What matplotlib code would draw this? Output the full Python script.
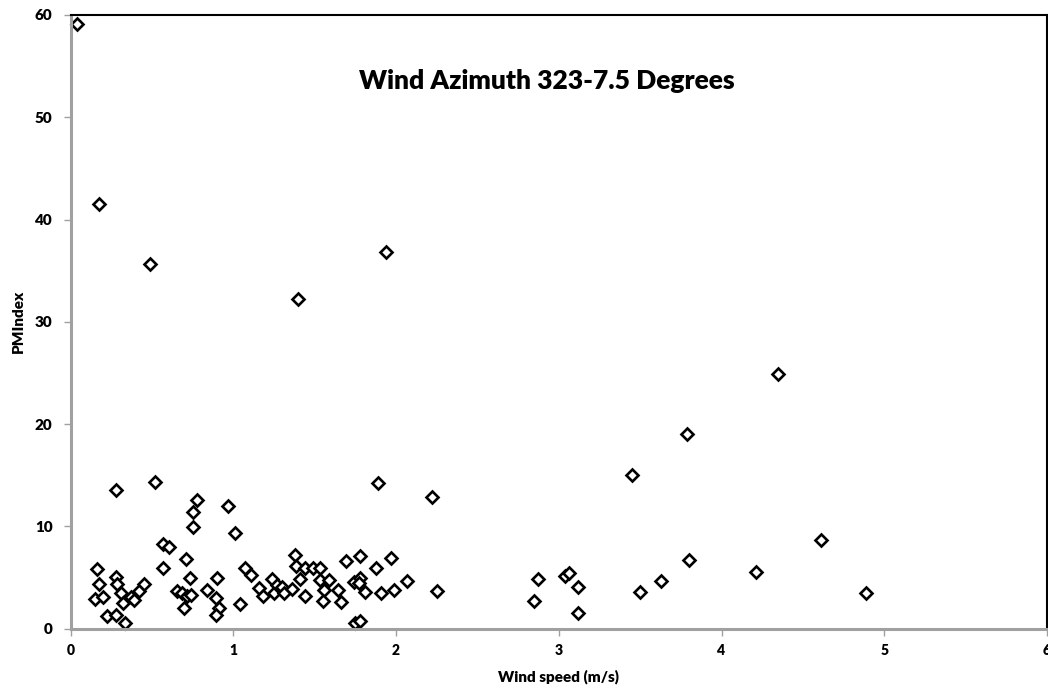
import matplotlib
matplotlib.use("Agg")
import matplotlib.pyplot as plt

plt.rcParams['font.family'] = ['Lato', 'DejaVu Sans']

title = "Wind Azimuth 323-7.5 Degrees"
x_label = "Wind speed (m/s)"
y_label = "PMIndex"

wind_speed = [
    0.038, 0.175, 0.49, 1.40, 1.94,
    3.79, 3.45, 4.61, 3.80, 3.63, 3.50, 4.21, 4.35, 4.89,
    2.22, 2.25, 2.87, 2.85, 3.04, 3.06, 3.12, 3.12,
    1.89, 1.07, 1.11, 1.04, 1.38, 1.385, 1.44, 1.49, 1.53,
    1.41, 1.24, 1.16, 1.18, 1.25, 1.27, 1.30, 1.31, 1.36, 1.44,
    1.53, 1.59, 1.56, 1.55, 1.645, 1.66, 1.69, 1.78,
    1.74, 1.78, 1.77, 1.81, 1.88, 1.97, 1.91, 1.99, 2.07,
    1.75, 1.78,
    0.28, 0.52, 0.775, 0.755, 0.75, 0.97, 1.01, 0.566, 0.605, 0.71,
    0.57, 0.16, 0.177, 0.152, 0.20, 0.28, 0.284, 0.31, 0.32, 0.37,
    0.39, 0.42, 0.45, 0.226, 0.28, 0.335, 0.734, 0.656, 0.683, 0.714,
    0.738, 0.697, 0.84, 0.898, 0.892, 0.914, 0.894,
]
pm_index = [
    59.1, 41.5, 35.6, 32.2, 36.8,
    19.0, 15.0, 8.65, 6.67, 4.64, 3.54, 5.56, 24.9, 3.5,
    12.9, 3.7, 4.87, 2.72, 5.16, 5.4, 4.09, 1.55,
    14.2, 5.88, 5.23, 2.4, 7.18, 6.11, 5.95, 5.95, 5.95,
    4.81, 4.84, 3.99, 3.21, 3.44, 4.22, 4.09, 3.44, 3.86, 3.18,
    4.74, 4.74, 3.76, 2.69, 3.76, 2.62, 6.63, 7.09,
    4.51, 4.97, 4.41, 3.6, 5.88, 6.92, 3.44, 3.76, 4.64,
    0.57, 0.73,
    13.5, 14.3, 12.6, 11.4, 9.89, 12.0, 9.3, 8.23, 7.94, 6.83,
    5.88, 5.82, 4.35, 2.91, 3.11, 5.07, 4.32, 3.5, 2.46, 3.11,
    2.79, 3.7, 4.32, 1.22, 1.32, 0.57, 4.9, 3.7, 3.44, 3.18,
    3.27, 1.97, 3.76, 4.9, 2.95, 1.97, 1.32,
]

x_ticks = [0, 1, 2, 3, 4, 5, 6]
y_ticks = [0, 10, 20, 30, 40, 50, 60]

fig = plt.figure(figsize=(10.48, 6.91), dpi=100)
ax = fig.add_axes([70.5 / 1048, 1 - 628.5 / 691, (1047 - 70.5) / 1048, (628.5 - 15) / 691])

ax.plot(wind_speed, pm_index, linestyle='none', marker='D', markersize=6.5,
        markerfacecolor='white', markeredgecolor='black', markeredgewidth=1.9,
        clip_on=False)

ax.set_xlim(0, 6)
ax.set_ylim(0, 60)
ax.set_xticks(x_ticks)
ax.set_yticks(y_ticks)
ax.set_xticklabels([str(t) for t in x_ticks], fontsize=10, fontweight='heavy')
ax.set_yticklabels([str(t) for t in y_ticks], fontsize=11, fontweight='heavy')
ax.tick_params(axis='both', direction='out', length=5, width=1, color='#a0a0a0')
ax.tick_params(axis='x', pad=6)
ax.tick_params(axis='y', pad=8)

for side in ['left', 'bottom']:
    ax.spines[side].set_color('#a0a0a0')
    ax.spines[side].set_linewidth(2.2)
for side in ['top', 'right']:
    ax.spines[side].set_color('black')
    ax.spines[side].set_linewidth(1.5)

ax.set_xlabel(x_label, fontsize=11, fontweight='heavy', labelpad=9)
ax.set_ylabel(y_label, fontsize=11, fontweight='heavy', labelpad=7)

ax.text(0.488, 0.893, title, transform=ax.transAxes, ha='center', va='center',
        fontsize=19, fontweight='heavy')

fig.savefig("out.png", dpi=100)
